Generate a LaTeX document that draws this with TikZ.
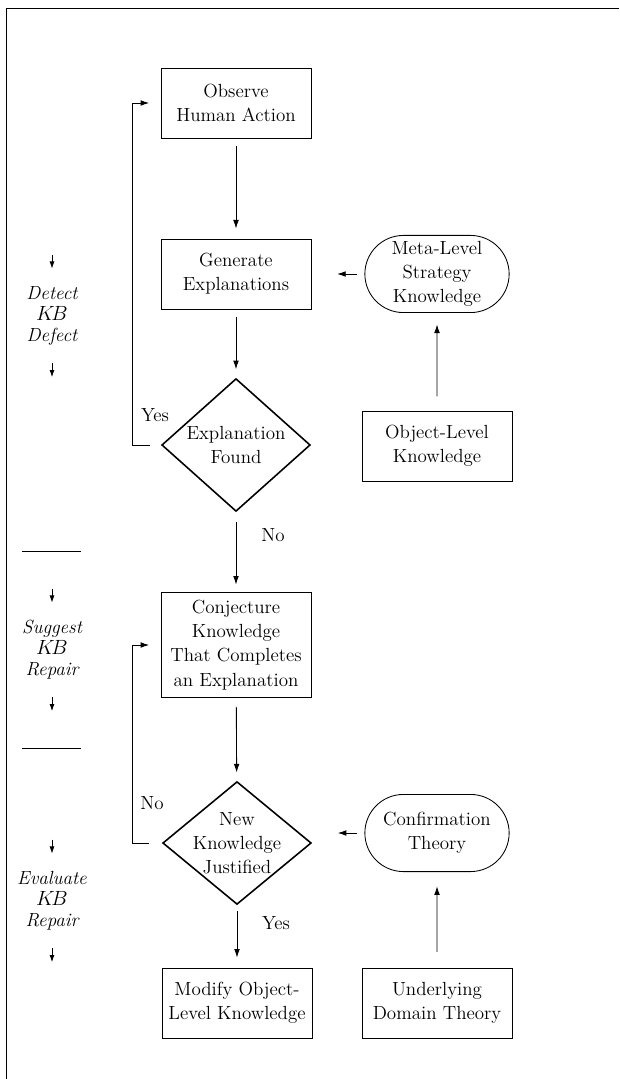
\documentclass[tikz,border=0pt]{standalone}
\usepackage{tikz}
\usetikzlibrary{shapes.geometric,shapes.misc,arrows.meta}

\tikzset{
  txt/.style={font=\fontsize{13.3}{17}\selectfont, align=center},
  procbox/.style={txt, draw, rectangle, minimum width=105pt, minimum height=49pt, inner sep=3pt},
  kbase/.style={txt, draw, rounded rectangle, minimum width=105pt, minimum height=54pt, inner sep=2pt},
  decision/.style={txt, draw, diamond, line width=1.1pt, inner sep=-10pt},
  phase/.style={font=\fontsize{13.3}{14.7}\selectfont\itshape, align=center},
  arr/.style={-{Latex[length=6pt,width=4pt]}},
  tinyarr/.style={-{Latex[length=5pt,width=3.5pt]}}
}

\begin{document}
\begin{tikzpicture}[x=0.7pt,y=-0.7pt,line width=0.6pt]
 \useasboundingbox (0,0) rectangle (619,1079);
 \draw (6,1079) -- (6,8) -- (619,8); % frame

 % main column
 \node[procbox] (obs) at (236,103) {Observe\\Human Action};
 \node[procbox] (gen) at (236,274) {Generate\\Explanations};
 \node[decision, minimum width=104pt, minimum height=93pt] (expl) at (236,445) {Explanation\\Found};
 \node[procbox, minimum height=74pt] (conj) at (236,645) {Conjecture\\Knowledge\\That Completes\\an Explanation};
 \node[decision, minimum width=104pt, minimum height=86pt] (newk) at (237,843) {New\\Knowledge\\Justified};
 \node[procbox] (modify) at (237,1003) {Modify Object-\\Level Knowledge};

 % right column
 \node[kbase] (meta) at (437,274) {Meta-Level\\Strategy\\Knowledge};
 \node[procbox] (objlvl) at (437,446) {Object-Level\\Knowledge};
 \node[kbase] (confirm) at (437,833) {Confirmation\\Theory};
 \node[procbox] (domain) at (437,1003) {Underlying\\Domain Theory};

 \draw[arr, shorten <=5pt, shorten >=7pt] (obs) -- (gen);
 \draw[arr, shorten <=5pt, shorten >=6pt] (gen) -- (expl);
 \draw[arr, shorten <=7pt, shorten >=5pt] (expl) -- (conj);
 \draw[arr, shorten <=6pt, shorten >=6pt] (conj) -- (newk);
 \draw[arr, shorten <=4pt, shorten >=7pt] (newk) -- (modify);

 \draw[arr, shorten <=5pt, shorten >=18pt] (meta) -- (gen);
 \draw[arr, shorten <=10pt, shorten >=8pt] (objlvl) -- (meta);
 \draw[arr, shorten <=5pt, shorten >=18pt] (confirm.west) -- (confirm.west -| newk.east);
 \draw[arr, shorten <=11pt, shorten >=10pt] (domain) -- (confirm);

 % loops back
 \draw[arr, shorten <=8pt, shorten >=8pt] (expl.west) -- ++(-29,0) |- (obs.west);
 \draw[arr, shorten <=9pt, shorten >=8pt] (newk.west) -- ++(-30,0) |- (conj.west);

 \node[txt] (yes1) at (155,415) {Yes};
 \node[txt] (no1) at (273,535) {No};
 \node[txt] (no2) at (152,803) {No};
 \node[txt] (yes2) at (276,923) {Yes};

 % phases on the left
 \node[phase] (detect) at (52,316) {Detect\\$K\!B$\\Defect};
 \node[phase] (suggest) at (52,650) {Suggest\\$K\!B$\\Repair};
 \node[phase] (evaluate) at (52,901) {Evaluate\\$K\!B$\\Repair};
 \foreach \p in {detect,suggest,evaluate} {
   \draw[tinyarr] ([yshift=43pt]\p.center) -- ++(0,14);
   \draw[tinyarr] ([yshift=-33pt]\p.center) -- ++(0,14);
 }
 \draw (22,551) -- (81,551);
 \draw (22,748) -- (81,748);

\end{tikzpicture}
\end{document}
